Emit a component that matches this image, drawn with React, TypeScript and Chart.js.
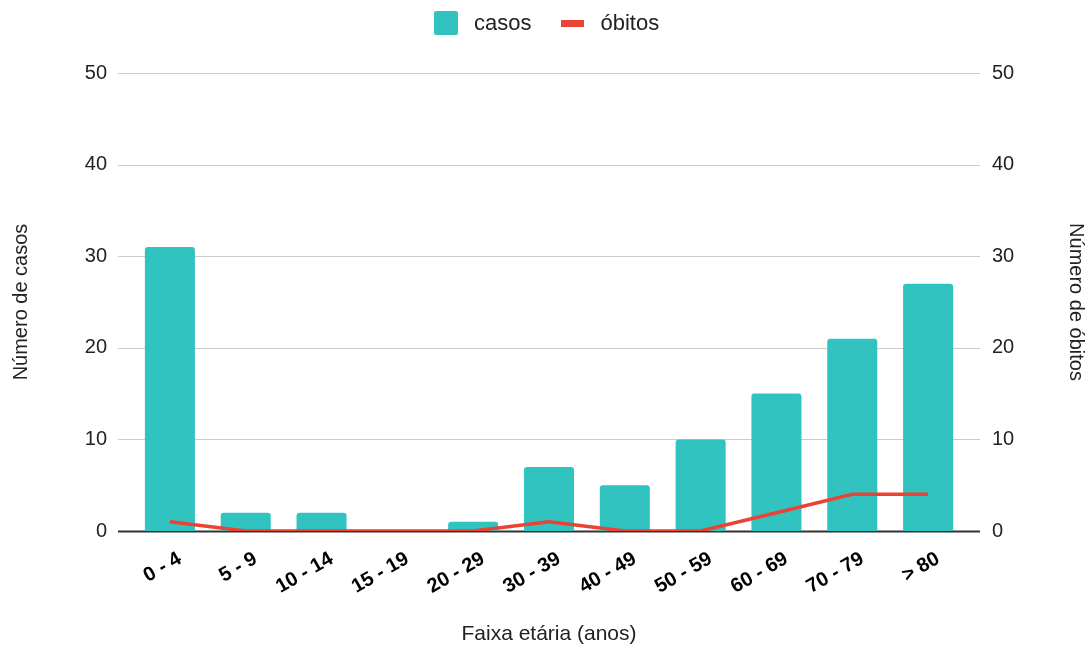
import React, { useEffect, useRef } from "react";
import { Chart, registerables } from "chart.js";

Chart.register(...registerables);

const categories = ["0 - 4", "5 - 9", "10 - 14", "15 - 19", "20 - 29", "30 - 39", "40 - 49", "50 - 59", "60 - 69", "70 - 79", "> 80"];
const casos = [31, 2, 2, 0, 1, 7, 5, 10, 15, 21, 27];
const obitos = [1, 0, 0, 0, 0, 1, 0, 0, 2, 4, 4];
const yTicks = [0, 10, 20, 30, 40, 50];

const TEAL = "#31c3bf";
const RED = "#ea4335";
const FONT = "'Liberation Sans', Arial, sans-serif";

const gridPlugin = {
  id: "wideGrid",
  beforeDatasetsDraw(chart: any) {
    const { ctx, scales } = chart;
    const y = scales.y;
    ctx.save();
    for (const v of yTicks) {
      const py = Math.round(y.getPixelForValue(v)) + 0.5;
      ctx.beginPath();
      ctx.lineWidth = v === 0 ? 2 : 1;
      ctx.strokeStyle = v === 0 ? "#333333" : "#cccccc";
      ctx.moveTo(118, py);
      ctx.lineTo(980, py);
      ctx.stroke();
    }
    ctx.restore();
  },
};

export default function App() {
  const ref = useRef<HTMLCanvasElement>(null);
  useEffect(() => {
    const chart = new Chart(ref.current!, {
      type: "bar",
      data: {
        labels: categories,
        datasets: [
          {
            type: "line",
            label: "óbitos",
            data: obitos,
            yAxisID: "y1",
            borderColor: RED,
            backgroundColor: RED,
            borderWidth: 3.5,
            pointRadius: 0,
            tension: 0,
            order: 0,
          } as any,
          {
            type: "bar",
            label: "casos",
            data: casos,
            yAxisID: "y",
            backgroundColor: TEAL,
            borderRadius: { topLeft: 3, topRight: 3 },
            categoryPercentage: 0.66,
            barPercentage: 1,
            order: 1,
          },
        ],
      },
      options: {
        animation: false,
        responsive: false,
        layout: { padding: { top: 73, left: 0, right: 0, bottom: 0 } },
        plugins: {
          legend: { display: false },
          tooltip: { enabled: false },
        },
        scales: {
          x: {
            grid: { display: false, drawTicks: false },
            border: { display: false },
            ticks: {
              font: { family: FONT, size: 20, weight: "bold" },
              color: "#000",
              maxRotation: 30,
              minRotation: 30,
              padding: 16,
              labelOffset: 10,
            },
            title: {
              display: true,
              text: "Faixa etária (anos)",
              font: { family: FONT, size: 21 },
              color: "#222",
              padding: { top: 10, bottom: 4 },
            },
            afterFit(scale: any) {
              scale.height = 120;
            },
          },
          y: {
            position: "left",
            min: 0,
            max: 50,
            grid: { display: false, drawTicks: false },
            border: { display: false },
            ticks: { stepSize: 10, font: { family: FONT, size: 20 }, color: "#222", padding: 25 },
            title: {
              display: true,
              text: "Número de casos",
              font: { family: FONT, size: 20 },
              color: "#222",
              padding: { top: 9, bottom: 0 },
            },
            afterFit(scale: any) {
              scale.width = 132;
            },
          },
          y1: {
            position: "right",
            min: 0,
            max: 50,
            grid: { display: false, drawTicks: false },
            border: { display: false },
            ticks: { stepSize: 10, font: { family: FONT, size: 20 }, color: "#222", padding: 26 },
            title: {
              display: true,
              text: "Número de óbitos",
              font: { family: FONT, size: 20 },
              color: "#222",
              padding: { top: 3, bottom: 0 },
            },
            afterFit(scale: any) {
              scale.width = 125;
            },
          },
        },
      },
      plugins: [gridPlugin],
    } as any);
    return () => chart.destroy();
  }, []);
  const legendText: React.CSSProperties = { fontFamily: FONT, fontSize: 22, color: "#222", lineHeight: "24px" };
  return (
    <div style={{ position: "absolute", left: 0, top: 0, width: 1091, height: 651, background: "#fff" }}>
      <canvas ref={ref} width={1091} height={651} />
      <div style={{ position: "absolute", left: 434, top: 11, height: 24, display: "flex", alignItems: "center" }}>
        <div style={{ width: 24, height: 24, background: TEAL, borderRadius: 2 }} />
        <span style={{ ...legendText, marginLeft: 16 }}>casos</span>
        <div style={{ width: 23, height: 7, background: RED, marginLeft: 30 }} />
        <span style={{ ...legendText, marginLeft: 16 }}>óbitos</span>
      </div>
    </div>
  );
}
